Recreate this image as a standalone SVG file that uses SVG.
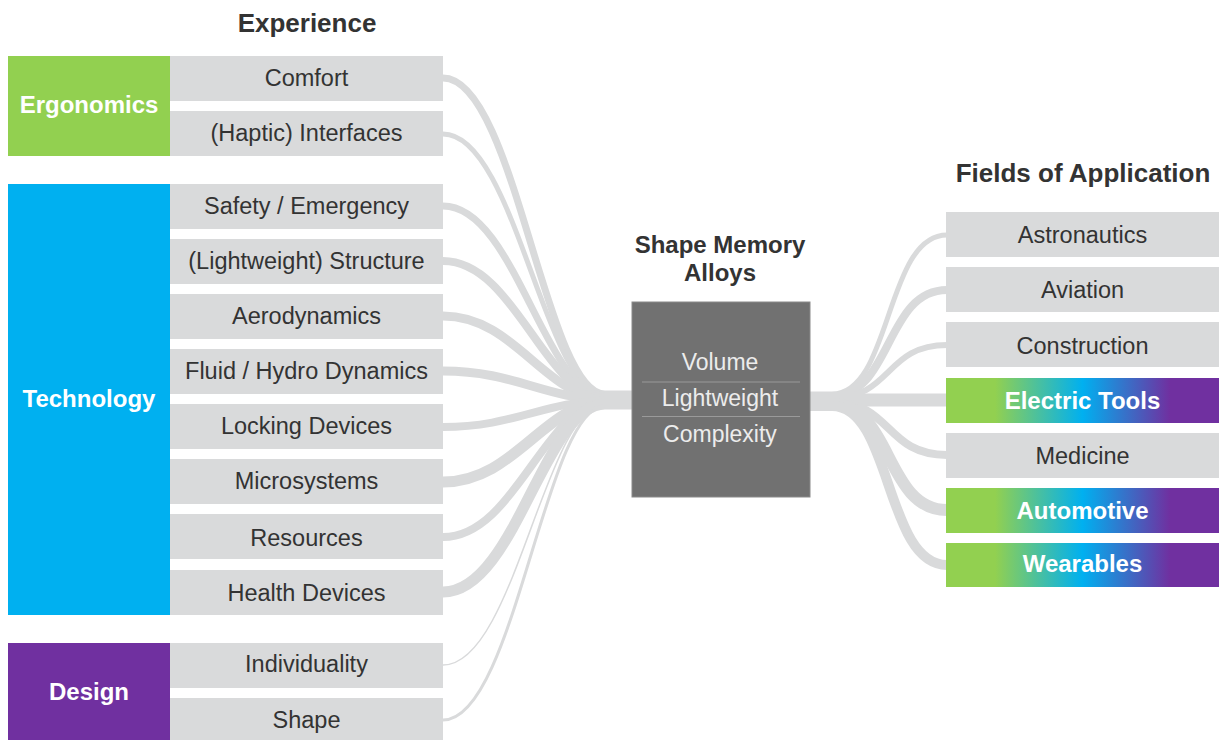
<svg xmlns="http://www.w3.org/2000/svg" width="1222" height="740" viewBox="0 0 1222 740">
<style>
.item{fill:#d9dadb}
.it{font-family:"Liberation Sans",Arial,sans-serif;font-size:23.5px;fill:#333;text-anchor:middle}
.cat{font-family:"Liberation Sans",Arial,sans-serif;font-size:24px;font-weight:bold;fill:#fff;text-anchor:middle}
.ttl{font-family:"Liberation Sans",Arial,sans-serif;font-size:26px;font-weight:bold;fill:#333;text-anchor:middle}
.sub{font-family:"Liberation Sans",Arial,sans-serif;font-size:24px;font-weight:bold;fill:#333;text-anchor:middle}
.ct{font-family:"Liberation Sans",Arial,sans-serif;font-size:23px;fill:#ececec;text-anchor:middle}
.con path{fill:none;stroke:#d9dadb;stroke-linecap:butt}
</style>
<defs>
<linearGradient id="grad" x1="0" y1="0" x2="1" y2="0">
<stop offset="0" stop-color="#92d050"/>
<stop offset="0.18" stop-color="#92d050"/>
<stop offset="0.5" stop-color="#00b0f0"/>
<stop offset="0.82" stop-color="#7030a0"/>
<stop offset="1" stop-color="#7030a0"/>
</linearGradient>
</defs>
<rect width="1222" height="740" fill="#fff"/>

<g id="connectors" class="con">
<path d="M443,78 C515,78 545,394 605,394 L633,394" stroke-width="7"/>
<path d="M443,134 C515,134 545,395 605,395 L633,395" stroke-width="5"/>
<path d="M443,206 C515,206 545,396 605,396 L633,396" stroke-width="7"/>
<path d="M443,261 C515,261 545,397 605,397 L633,397" stroke-width="8"/>
<path d="M443,316 C515,316 545,398 605,398 L633,398" stroke-width="9"/>
<path d="M443,371 C515,371 545,399 605,399 L633,399" stroke-width="9"/>
<path d="M443,427 C515,427 545,401 605,401 L633,401" stroke-width="8"/>
<path d="M443,482 C515,482 545,402 605,402 L633,402" stroke-width="11"/>
<path d="M443,537 C515,537 545,403 605,403 L633,403" stroke-width="8"/>
<path d="M443,592 C515,592 545,404 605,404 L633,404" stroke-width="11"/>
<path d="M443,665 C515,665 545,405 605,405 L633,405" stroke-width="1.5"/>
<path d="M443,720 C515,720 545,406 605,406 L633,406" stroke-width="3"/>
<path d="M809,394 L832,394 C892,394 885,235 947,235" stroke-width="5"/>
<path d="M809,396 L832,396 C892,396 885,290 947,290" stroke-width="8"/>
<path d="M809,398 L832,398 C892,398 885,345 947,345" stroke-width="6"/>
<path d="M809,400 L947,400" stroke-width="13"/>
<path d="M809,402 L832,402 C892,402 885,455 947,455" stroke-width="8"/>
<path d="M809,404 L832,404 C892,404 885,510 947,510" stroke-width="12"/>
<path d="M809,406 L832,406 C892,406 885,565 947,565" stroke-width="10"/>
</g>

<text class="ttl" x="307" y="32">Experience</text>
<text class="ttl" x="1083" y="182">Fields of Application</text>

<g id="ergonomics">
<rect x="8" y="56" width="162" height="100" fill="#92d050"/>
<text class="cat" x="89" y="113">Ergonomics</text>
</g>
<g id="comfort"><rect class="item" x="170" y="56" width="273" height="45"/><text class="it" x="306.5" y="86">Comfort</text></g>
<g id="haptic"><rect class="item" x="170" y="111" width="273" height="45"/><text class="it" x="306.5" y="141">(Haptic) Interfaces</text></g>

<g id="technology">
<rect x="8" y="184" width="162" height="431" fill="#00b0f0"/>
<text class="cat" x="89" y="407">Technology</text>
</g>
<g id="safety"><rect class="item" x="170" y="184" width="273" height="45"/><text class="it" x="306.5" y="214">Safety / Emergency</text></g>
<g id="structure"><rect class="item" x="170" y="239" width="273" height="45"/><text class="it" x="306.5" y="269">(Lightweight) Structure</text></g>
<g id="aero"><rect class="item" x="170" y="294" width="273" height="45"/><text class="it" x="306.5" y="324">Aerodynamics</text></g>
<g id="fluid"><rect class="item" x="170" y="349" width="273" height="45"/><text class="it" x="306.5" y="379">Fluid / Hydro Dynamics</text></g>
<g id="locking"><rect class="item" x="170" y="404" width="273" height="45"/><text class="it" x="306.5" y="434">Locking Devices</text></g>
<g id="micro"><rect class="item" x="170" y="459" width="273" height="45"/><text class="it" x="306.5" y="489">Microsystems</text></g>
<g id="resources"><rect class="item" x="170" y="514" width="273" height="45"/><text class="it" x="306.5" y="546">Resources</text></g>
<g id="health"><rect class="item" x="170" y="570" width="273" height="45"/><text class="it" x="306.5" y="601">Health Devices</text></g>

<g id="design">
<rect x="8" y="643" width="162" height="97" fill="#7030a0"/>
<text class="cat" x="89" y="700">Design</text>
</g>
<g id="individuality"><rect class="item" x="170" y="643" width="273" height="45"/><text class="it" x="306.5" y="672">Individuality</text></g>
<g id="shape"><rect class="item" x="170" y="698" width="273" height="42"/><text class="it" x="306.5" y="728">Shape</text></g>

<g id="sma">
<text class="sub" x="720" y="253">Shape Memory</text>
<text class="sub" x="720" y="281">Alloys</text>
<rect x="632" y="302" width="178" height="195" fill="#717171" stroke="#8a8a8a" stroke-width="1"/>
<line x1="642" y1="382" x2="800" y2="382" stroke="#9a9a9a" stroke-width="1"/>
<line x1="642" y1="416.5" x2="800" y2="416.5" stroke="#9a9a9a" stroke-width="1"/>
<text class="ct" x="720" y="370">Volume</text>
<text class="ct" x="720" y="406">Lightweight</text>
<text class="ct" x="720" y="442">Complexity</text>
</g>

<g id="astronautics"><rect class="item" x="946" y="212" width="273" height="45"/><text class="it" x="1082.5" y="243">Astronautics</text></g>
<g id="aviation"><rect class="item" x="946" y="267" width="273" height="45"/><text class="it" x="1082.5" y="298">Aviation</text></g>
<g id="construction"><rect class="item" x="946" y="322" width="273" height="45"/><text class="it" x="1082.5" y="354">Construction</text></g>
<g id="electric"><rect x="946" y="378" width="273" height="45" fill="url(#grad)"/><text class="cat" x="1082.5" y="409">Electric Tools</text></g>
<g id="medicine"><rect class="item" x="946" y="433" width="273" height="45"/><text class="it" x="1082.5" y="464">Medicine</text></g>
<g id="automotive"><rect x="946" y="488" width="273" height="45" fill="url(#grad)"/><text class="cat" x="1082.5" y="519">Automotive</text></g>
<g id="wearables"><rect x="946" y="543" width="273" height="44" fill="url(#grad)"/><text class="cat" x="1082.5" y="572">Wearables</text></g>
</svg>
